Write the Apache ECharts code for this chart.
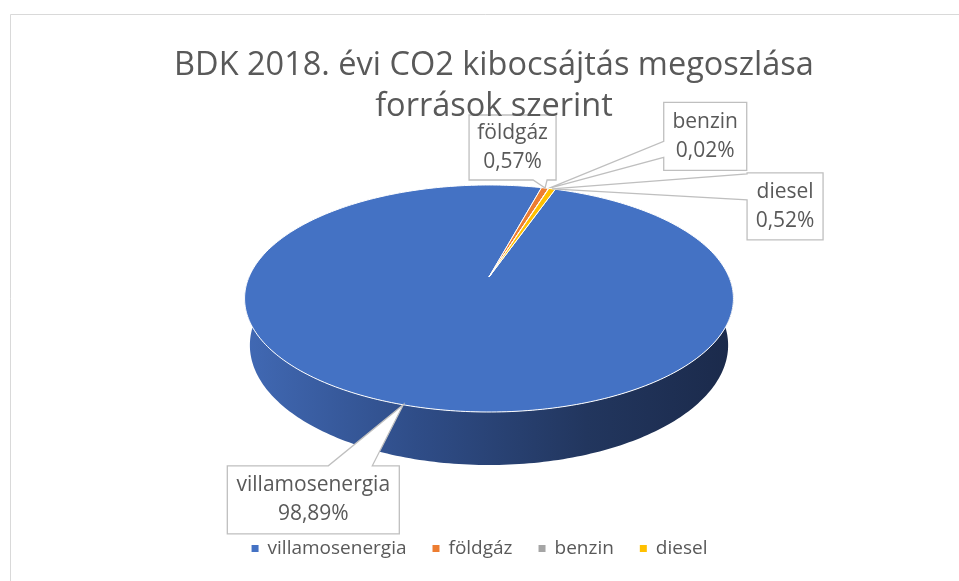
<!DOCTYPE html>
<html>
<head>
<meta charset="utf-8">
<script src="https://cdn.jsdelivr.net/npm/echarts@6/dist/echarts.min.js"></script>
<style>
  html, body { margin: 0; padding: 0; background: #fff; }
  #chart { width: 959px; height: 581px; }
</style>
</head>
<body>
<div id="chart"></div>
<script>
// adatok
const categories = ['villamosenergia', 'földgáz', 'benzin', 'diesel'];
const shares = [98.89, 0.57, 0.02, 0.52];
const colors = ['#4472C4', '#ED7D31', '#A5A5A5', '#FFC000'];

const FONT = '"Open Sans", sans-serif';
const TEXT_COLOR = '#595959';

// 3D pite vetitese (perspektiva)
const view = {
  cx: 489, cy: 277, f: 1128, dist: 4.70,
  sin: 0.456, cos: 0.89, depth: 0.22, start: 19
};

// cimke dobozok: eltolas a mutato csucsatol
const callouts = [
  { dx: -176, dy: 61, w: 172, h: 68, side: 'top', base: [101, 145] },
  { dx: -76, dy: -73, w: 87, h: 65, side: 'bottom', base: [64, 78] },
  { dx: 115, dy: -86, w: 83, h: 68, side: 'left', base: [39, 55] },
  { dx: 195, dy: -16, w: 76, h: 67, side: 'left', base: [1, 27] }
];

function project(deg, y3) {
  const t = deg * Math.PI / 180;
  const x3 = Math.sin(t), z3 = -Math.cos(t);
  const u = y3 * view.cos - z3 * view.sin;
  const d = view.dist - y3 * view.sin - z3 * view.cos;
  return [view.cx + view.f * x3 / d, view.cy - view.f * u / d];
}

function arc(a0, a1, y3) {
  const pts = [];
  const n = Math.max(2, Math.ceil(Math.abs(a1 - a0)));
  for (let k = 0; k <= n; k++) pts.push(project(a0 + (a1 - a0) * k / n, y3));
  return pts;
}

function sliceRange(i, val) {
  const total = shares.reduce((a, b) => a + b, 0);
  let acc = 0;
  for (let k = 0; k < i; k++) acc += shares[k];
  const a0 = view.start + acc / total * 360;
  return [a0, a0 + val / total * 360];
}

function fmt(v) {
  return v.toFixed(2).replace('.', ',') + '%';
}

function calloutShape(tip, c) {
  const x = tip[0] + c.dx, y = tip[1] + c.dy;
  const r = x + c.w, b = y + c.h;
  let pts;
  if (c.side === 'bottom') {
    pts = [[x, y], [r, y], [r, b], [x + c.base[1], b], tip, [x + c.base[0], b], [x, b]];
  } else if (c.side === 'left') {
    pts = [[x, y], [r, y], [r, b], [x, b], [x, y + c.base[1]], tip, [x, y + c.base[0]]];
  } else {
    pts = [[x, y], [x + c.base[0], y], tip, [x + c.base[1], y], [r, y], [r, b], [x, b]];
  }
  return { pts, x, y };
}

function makeRender(i) {
  return function (params, api) {
    const val = api.value(0);
    const [a0, a1] = sliceRange(i, val);
    const children = [];
    // kulso fal (csak az elol lathato resz)
    const w0 = Math.max(a0, 90), w1 = Math.min(a1, 270);
    if (w1 > w0) {
      const top = arc(w0, w1, 0);
      const bot = arc(w0, w1, -view.depth).reverse();
      children.push({
        type: 'polygon',
        shape: { points: top.concat(bot) },
        style: {
          fill: new echarts.graphic.LinearGradient(0, 0, 1, 0, [
            { offset: 0, color: '#4169B4' },
            { offset: 0.35, color: '#2F4D88' },
            { offset: 0.7, color: '#22365E' },
            { offset: 1, color: '#1B2A4B' }
          ]),
          stroke: null
        }
      });
    }
    // teteje
    children.push({
      type: 'polygon',
      shape: { points: [[view.cx, view.cy]].concat(arc(a0, a1, 0)) },
      style: { fill: api.visual('color'), stroke: '#ffffff', lineWidth: 1 }
    });
    // cimke
    const mid = (a0 + a1) / 2;
    const tip = project(mid, 0);
    const c = callouts[i];
    const s = calloutShape(tip, c);
    children.push({
      type: 'polygon',
      shape: { points: s.pts },
      style: { fill: '#ffffff', stroke: '#BFBFBF', lineWidth: 1.3 }
    });
    children.push({
      type: 'text',
      style: {
        x: s.x + c.w / 2, y: s.y + c.h / 2,
        text: categories[i] + '\n' + fmt(val),
        align: 'center', verticalAlign: 'middle',
        font: '21px ' + FONT, lineHeight: 29, fill: TEXT_COLOR
      }
    });
    return { type: 'group', children };
  };
}

const chart = echarts.init(document.getElementById('chart'));
chart.setOption({
  backgroundColor: '#ffffff',
  animation: false,
  title: {
    text: 'BDK 2018. évi CO2 kibocsájtás megoszlása\nforrások szerint',
    left: 489, top: 40, textAlign: 'center',
    textStyle: { fontFamily: FONT, fontSize: 32.5, fontWeight: 'normal', color: TEXT_COLOR, lineHeight: 41 }
  },
  legend: {
    bottom: 18, left: 'center',
    icon: 'rect', itemWidth: 7, itemHeight: 7, itemGap: 26,
    data: categories,
    textStyle: { fontFamily: FONT, fontSize: 19, color: TEXT_COLOR, padding: [0, 0, 0, 4] }
  },
  graphic: [{
    type: 'rect', left: 8, top: 12, silent: true, z: -1,
    shape: { width: 960, height: 580 },
    style: { fill: null, stroke: '#D9D9D9', lineWidth: 1 }
  }],
  series: categories.map((name, i) => ({
    type: 'custom',
    name: name,
    coordinateSystem: 'none',
    itemStyle: { color: colors[i] },
    renderItem: makeRender(i),
    data: [[shares[i]]]
  }))
});
</script>
</body>
</html>
